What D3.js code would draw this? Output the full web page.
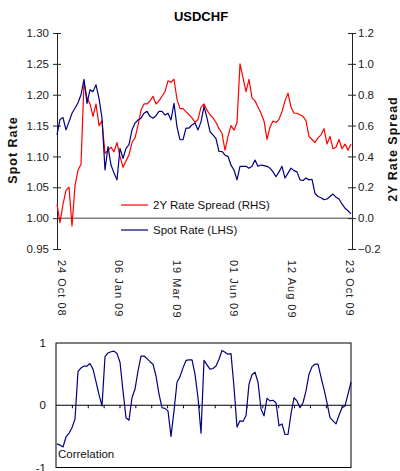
<!DOCTYPE html>
<html>
<head>
<meta charset="utf-8">
<script src="https://cdn.jsdelivr.net/npm/d3@7/dist/d3.min.js"></script>
<style>
  body { margin: 0; background: #ffffff; }
  svg { display: block; font-family: "Liberation Sans", Arial, sans-serif; }
</style>
</head>
<body>
<div id="chart"></div>
<script>
// Données (un point tous les ~3 px)
const spotRate = [
  1.135, 1.160, 1.163, 1.143, 1.156, 1.170, 1.178, 1.187, 1.200, 1.225,
  1.186, 1.208, 1.205, 1.216, 1.194, 1.162, 1.078, 1.116, 1.086, 1.073,
  1.062, 1.113, 1.097, 1.113, 1.119, 1.143, 1.154, 1.159, 1.162, 1.170,
  1.173, 1.165, 1.162, 1.166, 1.173, 1.173, 1.167, 1.170, 1.159, 1.186,
  1.148, 1.127, 1.127, 1.146, 1.146, 1.151, 1.154, 1.143, 1.156, 1.181,
  1.162, 1.140, 1.135, 1.129, 1.108, 1.108, 1.102, 1.100, 1.086, 1.078,
  1.062, 1.084, 1.084, 1.084, 1.081, 1.084, 1.094, 1.084, 1.086, 1.085,
  1.084, 1.081, 1.075, 1.067, 1.075, 1.084, 1.065, 1.073, 1.081, 1.077,
  1.075, 1.062, 1.061, 1.065, 1.062, 1.063, 1.040, 1.035, 1.033, 1.030,
  1.031, 1.035, 1.039, 1.034, 1.031, 1.023, 1.016, 1.012, 1.007
];

const rateSpread = [
  0.09, -0.03, 0.09, 0.18, 0.20, -0.05, 0.21, 0.31, 0.35, 0.88,
  0.78, 0.74, 0.66, 0.74, 0.60, 0.63, 0.42, 0.44, 0.46, 0.43,
  0.49, 0.40, 0.33, 0.37, 0.41, 0.49, 0.52, 0.60, 0.70, 0.74,
  0.74, 0.76, 0.79, 0.74, 0.76, 0.79, 0.82, 0.89, 0.88, 0.90,
  0.77, 0.71, 0.71, 0.69, 0.67, 0.65, 0.62, 0.64, 0.72, 0.74,
  0.70, 0.67, 0.65, 0.62, 0.58, 0.55, 0.44, 0.53, 0.60, 0.57,
  0.62, 1.00, 0.91, 0.82, 0.90, 0.78, 0.76, 0.72, 0.68, 0.63,
  0.51, 0.59, 0.63, 0.62, 0.64, 0.69, 0.76, 0.81, 0.72, 0.68,
  0.68, 0.67, 0.66, 0.63, 0.53, 0.51, 0.49, 0.52, 0.54, 0.58,
  0.48, 0.53, 0.45, 0.46, 0.51, 0.45, 0.48, 0.44, 0.48
];

const correlation = [
  -0.62, -0.64, -0.67, -0.51, -0.45, -0.36, -0.22, 0.54, 0.60, 0.63,
  0.63, 0.67, 0.58, 0.38, 0.17, -0.01, 0.78, 0.84, 0.86, 0.87,
  0.83, 0.69, 0.23, -0.20, -0.24, 0.12, 0.26, 0.55, 0.79, 0.79,
  0.75, 0.70, 0.66, 0.47, 0.18, -0.04, -0.05, -0.09, -0.50, -0.09,
  0.37, 0.46, 0.60, 0.72, 0.73, 0.73, 0.50, 0.12, -0.45, 0.72,
  0.65, 0.58, 0.59, 0.63, 0.74, 0.88, 0.85, 0.82, 0.83, 0.29,
  -0.35, -0.25, -0.26, -0.17, 0.34, 0.49, 0.53, 0.37, -0.06, -0.17,
  0.11, 0.07, 0.08, 0.04, -0.33, -0.30, -0.47, -0.47, -0.14, 0.12,
  0.07, -0.04, 0.04, 0.23, 0.50, 0.62, 0.66, 0.66, 0.45, 0.26,
  0.04, -0.20, -0.25, -0.30, -0.16, -0.04, -0.01, 0.18, 0.37
];

// étiquettes de dates et leur position (index de l'échantillon)
const dateLabels = ["24 Oct 08", "06 Jan 09", "19 Mar 09", "01 Jun 09", "12 Aug 09", "23 Oct 09"];
const dateLabelPos = [1.5, 20.7, 39.9, 59.1, 78.3, 97.5];

// graduations des axes
const spotTicks = [0.95, 1.00, 1.05, 1.10, 1.15, 1.20, 1.25, 1.30];
const spreadTicks = [-0.2, 0.0, 0.2, 0.4, 0.6, 0.8, 1.0, 1.2];
const corrTicks = [-1, 0, 1];
// petites graduations sur la ligne zéro de la corrélation (tous les ~5.3 échantillons)
const corrMinorTicks = d3.range(1, 19).map(i => -0.33 + i * 5.29);

const width = 400;
const height = 471;

const svg = d3.select("#chart")
  .append("svg")
  .attr("width", width)
  .attr("height", height);

svg.append("rect")
  .attr("width", width)
  .attr("height", height)
  .attr("fill", "#ffffff");

//---------------------------------------------------------------------------------------
// Graphique du haut : USDCHF

const x = d3.scaleLinear().domain([0, spotRate.length - 1]).range([57, 351]);
const yL = d3.scaleLinear().domain([0.95, 1.30]).range([249, 33]);
const yR = d3.scaleLinear().domain([-0.2, 1.2]).range([249, 33]);

// titre
svg.append("text")
  .attr("x", 201)
  .attr("y", 21)
  .attr("text-anchor", "middle")
  .attr("font-size", "13px")
  .attr("font-weight", "bold")
  .attr("fill", "#000")
  .text("USDCHF");

// ligne zéro (1.00 à gauche / 0.0 à droite)
svg.append("line")
  .attr("x1", 57)
  .attr("x2", 352)
  .attr("y1", yL(1.00))
  .attr("y2", yL(1.00))
  .attr("stroke", "#808080")
  .attr("stroke-width", 1.5);

// axe gauche
const axisL = svg.append("g")
  .attr("transform", "translate(57,0)")
  .call(d3.axisLeft(yL).tickValues(spotTicks).tickFormat(d3.format(".2f")).tickSizeInner(4).tickSizeOuter(0));

axisL.selectAll(".tick line").attr("x1", 4).attr("stroke", "#222");
axisL.select(".domain").attr("stroke", "#222");
axisL.selectAll("text")
  .attr("x", -8)
  .attr("font-size", "11.5px")
  .attr("fill", "#222")
  .attr("font-family", "Liberation Sans, Arial, sans-serif");

// axe droit
const axisR = svg.append("g")
  .attr("transform", "translate(352,0)")
  .call(d3.axisRight(yR).tickValues(spreadTicks).tickFormat(d3.format(".1f")).tickSizeInner(4).tickSizeOuter(0));

axisR.selectAll(".tick line").attr("x1", -4).attr("stroke", "#222");
axisR.select(".domain").attr("stroke", "#222");
axisR.selectAll("text")
  .attr("x", 6)
  .attr("font-size", "11.5px")
  .attr("fill", "#222")
  .attr("font-family", "Liberation Sans, Arial, sans-serif");

// titres des axes
svg.append("text")
  .attr("transform", `translate(17,150) rotate(-90)`)
  .attr("text-anchor", "middle")
  .attr("font-size", "12.5px")
  .attr("font-weight", "bold")
  .attr("letter-spacing", "1px")
  .attr("fill", "#111")
  .text("Spot Rate");

svg.append("text")
  .attr("transform", `translate(397,149) rotate(-90)`)
  .attr("text-anchor", "middle")
  .attr("font-size", "12.5px")
  .attr("font-weight", "bold")
  .attr("letter-spacing", "1px")
  .attr("fill", "#111")
  .text("2Y Rate Spread");

// étiquettes de dates verticales
svg.selectAll(".date-label")
  .data(dateLabels)
  .join("text")
  .attr("class", "date-label")
  .attr("transform", (d, i) => `translate(${x(dateLabelPos[i])},260) rotate(90)`)
  .attr("dy", "0.35em")
  .attr("font-size", "11px")
  .attr("letter-spacing", "1px")
  .attr("fill", "#222")
  .text(d => d);

// courbes
const lineSpread = d3.line()
  .x((d, i) => x(i))
  .y(d => yR(d));

const lineSpot = d3.line()
  .x((d, i) => x(i))
  .y(d => yL(d));

svg.append("path")
  .attr("d", lineSpread(rateSpread))
  .attr("fill", "none")
  .attr("stroke", "#ff0000")
  .attr("stroke-width", 1.2)
  .attr("stroke-linejoin", "round");

svg.append("path")
  .attr("d", lineSpot(spotRate))
  .attr("fill", "none")
  .attr("stroke", "#000080")
  .attr("stroke-width", 1.2)
  .attr("stroke-linejoin", "round");

// légende
const legendItems = [
  { label: "2Y Rate Spread (RHS)", color: "#ff0000" },
  { label: "Spot Rate (LHS)", color: "#000080" }
];

const legend = svg.append("g").attr("transform", "translate(121,205)");

legend.selectAll("line")
  .data(legendItems)
  .join("line")
  .attr("x1", 0)
  .attr("x2", 27)
  .attr("y1", (d, i) => i * 25)
  .attr("y2", (d, i) => i * 25)
  .attr("stroke", d => d.color)
  .attr("stroke-width", 1.2);

legend.selectAll("text")
  .data(legendItems)
  .join("text")
  .attr("x", 32)
  .attr("y", (d, i) => i * 25)
  .attr("dy", "0.35em")
  .attr("font-size", "11.5px")
  .attr("fill", "#111")
  .text(d => d.label);

//---------------------------------------------------------------------------------------
// Graphique du bas : corrélation

const yC = d3.scaleLinear().domain([-1, 1]).range([467.5, 343]);

svg.append("rect")
  .attr("x", 56)
  .attr("y", 343)
  .attr("width", 295)
  .attr("height", 124.5)
  .attr("fill", "none")
  .attr("stroke", "#000")
  .attr("stroke-width", 1);

// ligne zéro avec graduations vers le bas
const zeroAxis = svg.append("g")
  .attr("transform", `translate(0,${yC(0)})`)
  .call(d3.axisBottom(x).tickValues(corrMinorTicks).tickSizeInner(3).tickSizeOuter(0).tickFormat(""));

zeroAxis.select(".domain").remove();
zeroAxis.selectAll(".tick line").attr("stroke", "#000");

svg.append("line")
  .attr("x1", 56)
  .attr("x2", 351)
  .attr("y1", yC(0))
  .attr("y2", yC(0))
  .attr("stroke", "#000")
  .attr("stroke-width", 1);

// étiquettes de l'axe vertical
svg.selectAll(".corr-label")
  .data(corrTicks)
  .join("text")
  .attr("class", "corr-label")
  .attr("x", 46)
  .attr("y", d => yC(d))
  .attr("dy", "0.35em")
  .attr("text-anchor", "end")
  .attr("font-size", "11.5px")
  .attr("fill", "#111")
  .text(d => d);

const lineCorr = d3.line()
  .x((d, i) => x(i))
  .y(d => yC(d));

svg.append("path")
  .attr("d", lineCorr(correlation))
  .attr("fill", "none")
  .attr("stroke", "#000080")
  .attr("stroke-width", 1.2)
  .attr("stroke-linejoin", "round");

svg.append("text")
  .attr("x", 58)
  .attr("y", 458)
  .attr("font-size", "11.5px")
  .attr("fill", "#111")
  .text("Correlation");
</script>
</body>
</html>
